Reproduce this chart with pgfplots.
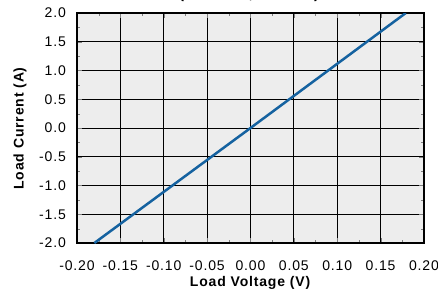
\documentclass[border=0pt]{standalone}
\usepackage{pgfplots}
\pgfplotsset{compat=1.18}
\usepackage{fontspec}
\setmainfont{Liberation Sans}[LetterSpace=6]
\definecolor{bg}{HTML}{EDEDED}
\definecolor{ln}{HTML}{1562A0}
\begin{document}
\begin{tikzpicture}[x=1pt,y=1pt]
\useasboundingbox (0,0) rectangle (438,295);
\begin{axis}[
  at={(77pt,52pt)}, anchor=south west,
  scale only axis, width=347pt, height=230pt,
  xmin=-0.2, xmax=0.2, ymin=-2, ymax=2,
  xtick={-0.2,-0.15,...,0.21}, ytick={-2,-1.5,...,2.1},
  minor x tick num=1, minor y tick num=1,
  xticklabel style={/pgf/number format/fixed, /pgf/number format/fixed zerofill, /pgf/number format/precision=2},
  yticklabel style={/pgf/number format/fixed, /pgf/number format/fixed zerofill, /pgf/number format/precision=1},
  /pgf/number format/assume math mode=true,
  tick label style={font=\fontsize{14}{15}\selectfont},
  xticklabel style={anchor=base, yshift=-27pt},
  yticklabel style={anchor=east, inner sep=0pt, xshift=-11pt},
  tick align=inside, tick pos=both,
  major tick length=5pt, minor tick length=3pt,
  grid=major, major grid style={black, line width=0.8pt},
  axis line style={line width=1.2pt},
  axis background/.style={fill=bg},
  xlabel={\textbf{Load Voltage (V)}}, ylabel={\textbf{Load Current (A)}},
  label style={font=\fontsize{14}{15}\selectfont},
  xlabel style={at={(axis description cs:0.5,0)}, anchor=center, yshift=-40pt},
  ylabel style={at={(axis description cs:0,0.5)}, anchor=center, yshift=57pt},
  title={\textbf{(T\textsubscript{A}=25\textdegree C, I\textsubscript{F}=2mA)}},
  title style={font=\fontsize{15}{16}\selectfont, at={(axis description cs:0.5,1)}, anchor=base, yshift=9pt, xshift=-1pt},
]
\addplot[ln, line width=2.5pt] coordinates {(-0.180,-2.0) (0.0,0.0) (0.179,2.0)};
\end{axis}
\end{tikzpicture}
\end{document}
